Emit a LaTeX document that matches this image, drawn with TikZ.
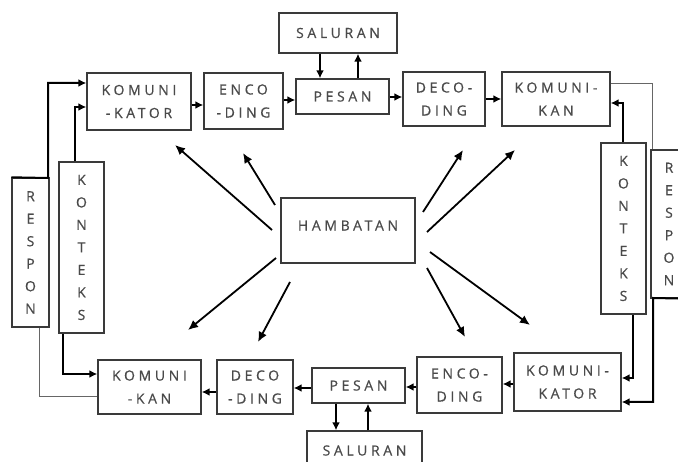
\documentclass[tikz,border=0pt]{standalone}
\usepackage{fontspec}
\setmainfont{Open Sans}
\newfontfamily\lblfont[LetterSpace=26,FakeBold=0.6]{Open Sans}
\usetikzlibrary{arrows.meta,calc}
\definecolor{txtgray}{HTML}{4A4A4A}
\definecolor{boxgray}{HTML}{3A3A3A}
\begin{document}
\begin{tikzpicture}[x=1pt,y=-1pt,
  box/.style={draw=boxgray, line width=1.4pt, fill=white, inner sep=0pt,
    font=\lblfont\fontsize{14}{23}\selectfont, text=txtgray, align=center},
  vbox/.style={box, font=\lblfont\fontsize{14}{22.5}\selectfont},
  arr/.style={line width=2pt, -{Latex[length=8pt,width=8pt]}},
  harr/.style={line width=1.8pt, -{Latex[length=10pt,width=9pt]}},
  ln/.style={line width=2pt},
  thinln/.style={draw=gray!80!black, line width=1pt}]
\useasboundingbox (0,0) rectangle (678,462);
\fill[white] (0,0) rectangle (678,462);

% top row
\node[box, minimum width=104pt, minimum height=57pt] (kkt) at (139,101.5) {KOMUNI\\-KATOR};
\node[box, minimum width=79pt, minimum height=56pt] (enc1) at (243.5,101) {ENCO\\-DING};
\node[box, minimum width=93pt, minimum height=35pt] (pes1) at (342.5,96.5) {PESAN};
\node[box, minimum width=118pt, minimum height=40pt] (sal1) at (338,33) {SALURAN};
\node[box, minimum width=82pt, minimum height=54pt] (dec1) at (444,99) {DECO-\\DING};
\node[box, minimum width=108pt, minimum height=54pt] (kkn1) at (556,99) {KOMUNI-\\KAN};

% right column
\node[vbox, minimum width=45pt, minimum height=171pt] (kon2) at (623.5,228.5) {K\\O\\N\\T\\E\\K\\S};
\node[vbox, minimum width=36pt, minimum height=148pt] (res2) at (669,224) {R\\E\\S\\P\\O\\N};

% bottom row
\node[box, minimum width=107pt, minimum height=58pt] (kkt2) at (567.5,382) {KOMUNI-\\KATOR};
\node[box, minimum width=85pt, minimum height=56pt] (enc2) at (459.5,385) {ENCO-\\DING};
\node[box, minimum width=93pt, minimum height=35pt] (pes2) at (358.5,385.5) {PESAN};
\node[box, minimum width=115pt, minimum height=39pt] (sal2) at (364.5,450.5) {SALURAN};
\node[box, minimum width=76pt, minimum height=54pt] (dec2) at (255,387) {DECO\\-DING};
\node[box, minimum width=103pt, minimum height=54pt] (kkn2) at (149.5,387) {KOMUNI\\-KAN};

% left column
\node[vbox, minimum width=37pt, minimum height=149pt] (res1) at (30.5,252.5) {R\\E\\S\\P\\O\\N};
\node[vbox, minimum width=45pt, minimum height=171pt] (kon1) at (81.5,247.5) {K\\O\\N\\T\\E\\K\\S};

% centre
\node[box, minimum width=134pt, minimum height=65pt] (ham) at (348,230.5) {\raisebox{10pt}{HAMBATAN}};

% top row arrows
\draw[arr] (kkt.east |- 0,105) -- (enc1.west |- 0,105);
\draw[arr] (enc1.east |- 0,100) -- (pes1.west |- 0,100);
\draw[arr] (pes1.east |- 0,97) -- (dec1.west |- 0,97);
\draw[arr] (dec1.east |- 0,99) -- (kkn1.west |- 0,99);
\draw[arr] (sal1.south -| 320,0) -- (pes1.north -| 320,0);
\draw[arr] (pes1.north -| 358,0) -- (sal1.south -| 358,0);

% bottom row arrows
\draw[arr] (kkt2.west |- 0,384) -- (enc2.east |- 0,384);
\draw[arr] (enc2.west |- 0,387) -- (pes2.east |- 0,387);
\draw[arr] (pes2.west |- 0,388) -- (dec2.east |- 0,388);
\draw[arr] (dec2.west |- 0,392) -- (kkn2.east |- 0,392);
\draw[arr] (pes2.south -| 336,0) -- (sal2.north -| 336,0);
\draw[arr] (sal2.north -| 368,0) -- (pes2.south -| 368,0);

% left connectors
\draw[arr] (res1.north west) -- (48,178) -- (48,83) -- (kkt.west |- 0,83);
\draw[arr] (kon1.north -| 75,0) -- (75,107) -- (kkt.west |- 0,107);
\draw[arr] (kon1.south -| 63,0) -- (63,374) -- (kkn2.west |- 0,374);
\draw[thinln] (res1.south -| 39,0) -- (39,397) -- (kkn2.west |- 0,397);

% right connectors
\draw[thinln] (kkn1.east |- 0,84) -- (652,84) -- (res2.north -| 652,0);
\draw[arr] (kon2.north -| 623,0) -- (623,103) -- (kkn1.east |- 0,103);
\draw[arr] (kon2.south -| 633,0) -- (633,378) -- (kkt2.east |- 0,378);
\draw[arr] (res2.south east) -- (653,298) -- (653,402) -- (kkt2.east |- 0,402);

% hambatan arrows
\coordinate (h1s) at (272,230); \coordinate (h1e) at (175,145);
\coordinate (h2s) at (275,205); \coordinate (h2e) at (243,153);
\coordinate (h3s) at (423,212); \coordinate (h3e) at (463,150);
\coordinate (h4s) at (427,232); \coordinate (h4e) at (515,150);
\coordinate (h5s) at (276,258); \coordinate (h5e) at (188,330);
\coordinate (h6s) at (290,282); \coordinate (h6e) at (258,342);
\coordinate (h7s) at (427,268); \coordinate (h7e) at (465,337);
\coordinate (h8s) at (430,252); \coordinate (h8e) at (530,325);
\foreach \i in {1,...,8} {\draw[harr] (h\i s) -- (h\i e);}
\end{tikzpicture}
\end{document}
